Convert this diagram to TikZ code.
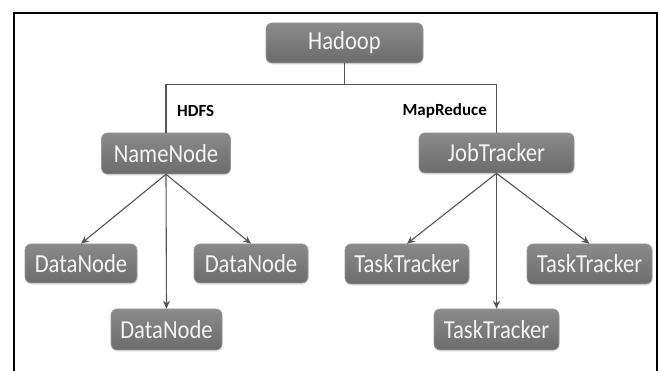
\documentclass[tikz,border=0pt]{standalone}
\usepackage{fontspec}
\setmainfont{Carlito}
\newfontfamily\boxfont[FakeStretch=0.87]{Carlito}
\usetikzlibrary{arrows.meta,shadows}

\definecolor{boxtop}{HTML}{8A8A8A}
\definecolor{boxbot}{HTML}{6C6C6C}
\definecolor{boxedge}{HTML}{9A9A9A}
\definecolor{boxtext}{HTML}{F4F4F4}
\definecolor{wire}{HTML}{555555}

\tikzset{
  unit/.style={rounded corners=6pt, top color=boxtop, bottom color=boxbot,
    draw=boxedge, line width=0.6pt, text=boxtext, inner sep=0pt,
    font=\boxfont\fontsize{26}{26}\selectfont,
    drop shadow={opacity=0.18, shadow xshift=0.6pt, shadow yshift=-1.6pt}},
  tag/.style={font=\bfseries\fontsize{17}{17}\selectfont, text=black, inner sep=0pt},
  link/.style={draw=wire, line width=1.1pt, -{Stealth[length=8pt,width=7pt]}},
  bracket/.style={draw=wire, line width=1.1pt}
}

\begin{document}
\begin{tikzpicture}[x=1pt, y=-1pt]
  \useasboundingbox (0,0) rectangle (659,371);
  \fill[white] (0,0) rectangle (659,371);

  % outer frame, open at the bottom
  \draw[line width=2pt, black] (14,371) -- (14,13) -- (657,13) -- (657,371);

  % top level
  \node[unit, minimum width=157pt, minimum height=40pt] (hadoop) at (344.5,43) {Hadoop};

  % two subsystems
  \node[unit, minimum width=129pt, minimum height=41pt] (namenode) at (166,153.5) {NameNode};
  \node[unit, minimum width=155pt, minimum height=40pt] (jobtracker) at (496.5,153) {JobTracker};

  \coordinate (bar) at (344.5,84.5);
  \draw[bracket] (hadoop.south) -- (bar);
  \draw[bracket] (namenode.north) |- (bar) -| (jobtracker.north);

  \node[tag, anchor=west] (hdfs) at (177,111) {HDFS};
  \node[tag, anchor=east] (mapreduce) at (487,111) {MapReduce};

  % HDFS workers
  \node[unit, minimum width=112pt, minimum height=39pt] (dn1) at (81,263.5) {DataNode};
  \node[unit, minimum width=114pt, minimum height=39pt] (dn2) at (251,263.5) {DataNode};
  \node[unit, minimum width=111pt, minimum height=41pt] (dn3) at (166.5,329.5) {DataNode};

  % MapReduce workers
  \node[unit, minimum width=124pt, minimum height=40pt] (tt1) at (407,264) {TaskTracker};
  \node[unit, minimum width=125pt, minimum height=40pt] (tt2) at (589.5,264) {TaskTracker};
  \node[unit, minimum width=125pt, minimum height=41pt] (tt3) at (496.5,329.5) {TaskTracker};

  \draw[link] (namenode.south) -- (dn1.north);
  \draw[link] (namenode.south) -- (dn2.north);
  \draw[link] (namenode.south) -- (dn3.north);

  \draw[link] (jobtracker.south) -- (tt1.north);
  \draw[link] (jobtracker.south) -- (tt2.north);
  \draw[link] (jobtracker.south) -- (tt3.north);
\end{tikzpicture}
\end{document}
